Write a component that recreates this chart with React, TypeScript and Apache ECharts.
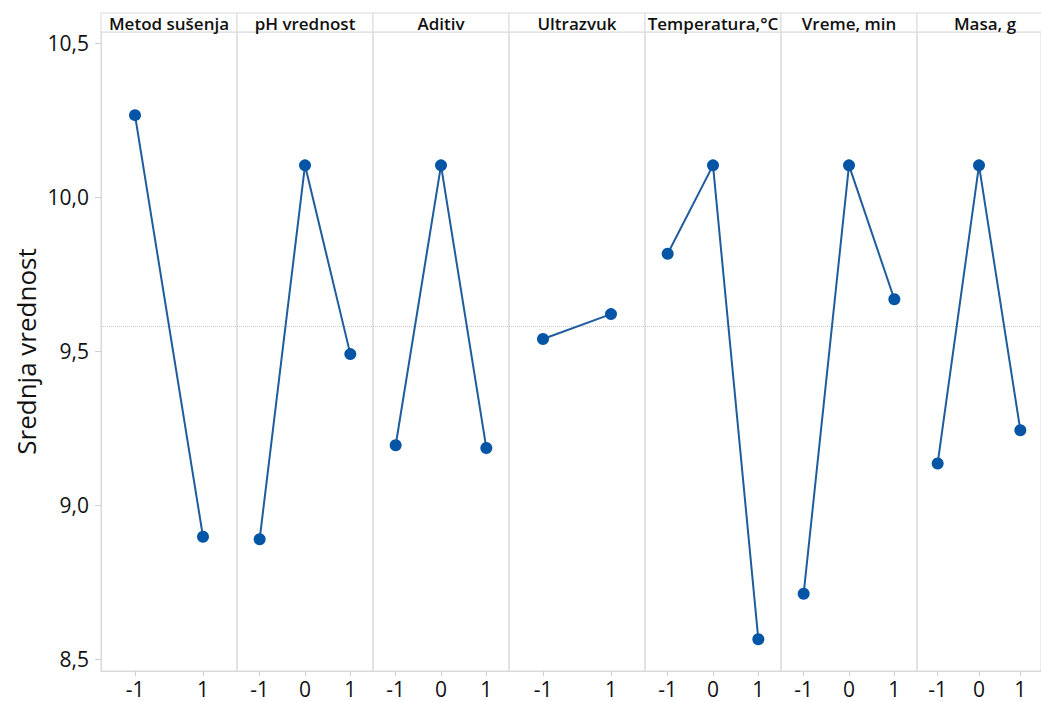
import React, { useEffect, useRef } from "react";
import * as echarts from "echarts";

// ---- data ----
const factors = [
  "Metod sušenja",
  "pH vrednost",
  "Aditiv",
  "Ultrazvuk",
  "Temperatura,°C",
  "Vreme, min",
  "Masa, g",
];
const levels2 = ["-1", "1"];
const levels3 = ["-1", "0", "1"];
const metodSusenja = [10.266, 8.897];
const phVrednost = [8.889, 10.103, 9.49];
const aditiv = [9.194, 10.103, 9.185];
const ultrazvuk = [9.539, 9.62];
const temperatura = [9.816, 10.103, 8.564];
const vreme = [8.712, 10.103, 9.668];
const masa = [9.135, 10.103, 9.243];
const grandMean = 9.583;
const yTicks = [8.5, 9.0, 9.5, 10.0, 10.5];
const yAxisTitle = "Srednja vrednost";

const panelLevels = [levels2, levels3, levels3, levels2, levels3, levels3, levels3];
const panelValues = [metodSusenja, phVrednost, aditiv, ultrazvuk, temperatura, vreme, masa];

// ---- layout ----
const PLOT_LEFT = 101;
const PANEL_W = 136;
const PLOT_TOP = 32;
const PLOT_H = 639;
const HEADER_TOP = 13;
const HEADER_H = PLOT_TOP - HEADER_TOP;
const Y_MIN = 8.461;
const Y_MAX = 10.536;

const FONT = "'Open Sans', 'Noto Sans', sans-serif";
const GRID_COLOR = "#d9d9d9";
const TEXT_COLOR = "#111111";

export default function App() {
  const ref = useRef<HTMLDivElement>(null);

  useEffect(() => {
    if (!ref.current) return;
    const chart = echarts.init(ref.current, undefined, { renderer: "svg" });

    const grids: any[] = [];
    const xAxes: any[] = [];
    const yAxes: any[] = [];
    const series: any[] = [];
    const graphics: any[] = [];

    factors.forEach((name, i) => {
      const left = PLOT_LEFT + PANEL_W * i;
      grids.push({
        left,
        top: PLOT_TOP,
        width: PANEL_W,
        height: PLOT_H,
        show: true,
        borderColor: GRID_COLOR,
        borderWidth: 1,
        backgroundColor: "transparent",
        containLabel: false,
      });
      xAxes.push({
        type: "category",
        gridIndex: i,
        data: panelLevels[i],
        boundaryGap: true,
        axisLine: { show: true, lineStyle: { color: GRID_COLOR } },
        axisTick: {
          show: true,
          alignWithLabel: true,
          length: 5,
          lineStyle: { color: "#cfcfcf" },
        },
        axisLabel: {
          show: true,
          margin: 7,
          color: TEXT_COLOR,
          fontSize: 21,
          fontFamily: FONT,
        },
        splitLine: { show: false },
      });
      yAxes.push({
        type: "value",
        gridIndex: i,
        min: Y_MIN,
        max: Y_MAX,
        splitLine: { show: false },
        axisLine: { show: i === 0, lineStyle: { color: GRID_COLOR } },
        axisTick: {
          show: i === 0,
          length: 6,
          customValues: yTicks,
          lineStyle: { color: "#cfcfcf" },
        },
        axisLabel: {
          show: i === 0,
          customValues: yTicks,
          margin: 12,
          color: TEXT_COLOR,
          fontSize: 21,
          fontFamily: FONT,
          formatter: (v: number) => v.toFixed(1).replace(".", ","),
        },
        name: i === 0 ? yAxisTitle : "",
        nameLocation: "middle",
        nameRotate: 90,
        nameGap: 62,
        nameTextStyle: { fontSize: 26, color: TEXT_COLOR, fontFamily: FONT },
      });
      series.push({
        type: "line",
        xAxisIndex: i,
        yAxisIndex: i,
        data: panelValues[i],
        symbol: "circle",
        symbolSize: 12,
        lineStyle: { color: "#1f5c9c", width: 2 },
        itemStyle: { color: "#0455a6" },
        z: 3,
        markLine: {
          silent: true,
          symbol: "none",
          label: { show: false },
          lineStyle: { color: "#c8c8c8", type: "dotted", width: 1 },
          data: [{ yAxis: grandMean }],
          z: 1,
        },
      });
      graphics.push({
        type: "rect",
        shape: { x: left, y: HEADER_TOP, width: PANEL_W, height: HEADER_H },
        style: { fill: "#ffffff", stroke: GRID_COLOR, lineWidth: 1 },
      });
      graphics.push({
        type: "text",
        x: left + PANEL_W / 2,
        y: HEADER_TOP + HEADER_H / 2 + 1,
        style: {
          text: name,
          fill: TEXT_COLOR,
          fontSize: 17,
          fontWeight: 600,
          fontFamily: FONT,
          align: "center",
          verticalAlign: "middle",
        },
      });
    });

    chart.setOption({
      animation: false,
      backgroundColor: "#ffffff",
      grid: grids,
      xAxis: xAxes,
      yAxis: yAxes,
      series,
      graphic: graphics,
    });

    return () => chart.dispose();
  }, []);

  return (
    <div
      ref={ref}
      style={{ position: "fixed", left: 0, top: 0, width: 1041, height: 702 }}
    />
  );
}
